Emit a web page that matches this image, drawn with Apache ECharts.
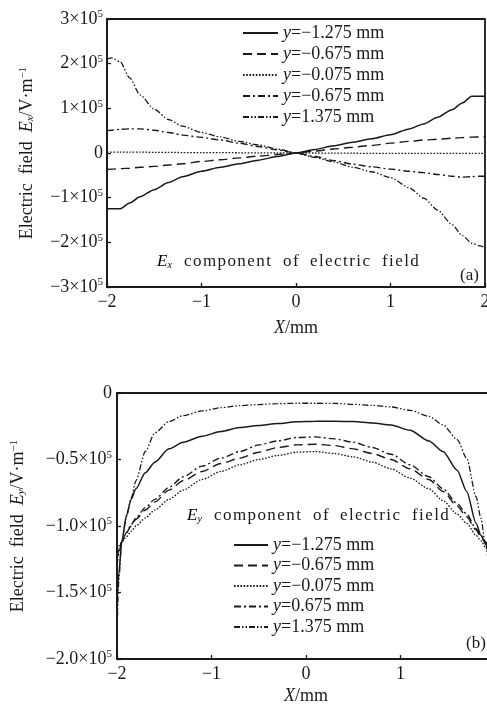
<!DOCTYPE html>
<html><head><meta charset="utf-8">
<script src="https://cdn.jsdelivr.net/npm/echarts@6/dist/echarts.min.js"></script>
<style>html,body{margin:0;padding:0;background:#fff}#c{width:487px;height:707px}</style>
</head><body><div id="c"></div>
<script>
// ---- Data (top: Ex, in units of 1e5 V/m) ----
const xTop = [-2, -1.95, -1.86, -1.76, -1.65, -1.5, -1.35, -1.2, -1.0, -0.8, -0.6, -0.4, -0.2, 0, 0.2, 0.4, 0.6, 0.8, 1.0, 1.2, 1.35, 1.5, 1.65, 1.76, 1.86, 1.95, 2];
const exA = [-1.25, -1.25, -1.25, -1.12, -0.98, -0.82, -0.66, -0.53, -0.41, -0.32, -0.24, -0.16, -0.08, 0, 0.08, 0.16, 0.24, 0.32, 0.41, 0.54, 0.65, 0.80, 0.97, 1.12, 1.27, 1.27, 1.27];
const exB = [-0.37, -0.36, -0.35, -0.34, -0.32, -0.30, -0.27, -0.24, -0.19, -0.15, -0.11, -0.07, -0.035, 0, 0.045, 0.09, 0.13, 0.17, 0.22, 0.26, 0.29, 0.31, 0.33, 0.345, 0.355, 0.36, 0.36];
const exC = [0.02, 0.02, 0.02, 0.02, 0.02, 0.015, 0.015, 0.01, 0.01, 0.01, 0.005, 0.005, 0, 0, 0, -0.005, -0.005, -0.01, -0.01, -0.01, -0.01, -0.01, -0.01, -0.01, -0.01, -0.01, -0.01];
const exD = [0.50, 0.51, 0.53, 0.54, 0.54, 0.51, 0.46, 0.40, 0.35, 0.29, 0.22, 0.145, 0.07, 0, -0.08, -0.17, -0.25, -0.31, -0.36, -0.41, -0.44, -0.48, -0.52, -0.54, -0.53, -0.52, -0.52];
const exE = [2.10, 2.13, 2.04, 1.68, 1.30, 0.98, 0.75, 0.60, 0.46, 0.36, 0.26, 0.18, 0.09, 0, -0.10, -0.20, -0.32, -0.42, -0.55, -0.78, -1.01, -1.28, -1.60, -1.85, -2.02, -2.08, -2.12];
const topLabels = ['y=−1.275 mm', 'y=−0.675 mm', 'y=−0.075 mm', 'y=−0.675 mm', 'y=1.375 mm'];
const topTicks = [-3, -2, -1, 0, 1, 2, 3];

// ---- Data (bottom: Ey, in units of 1e5 V/m) ----
const xBot = [-2, -1.98, -1.95, -1.9, -1.85, -1.8, -1.7, -1.6, -1.45, -1.3, -1.1, -0.9, -0.7, -0.5, -0.3, -0.1, 0.1, 0.3, 0.5, 0.7, 0.9, 1.1, 1.3, 1.45, 1.6, 1.7, 1.8, 1.85, 1.9, 1.95, 1.98, 2];
const eyA = [-1.55, -1.35, -1.12, -0.92, -0.80, -0.72, -0.60, -0.52, -0.42, -0.37, -0.325, -0.29, -0.26, -0.245, -0.23, -0.217, -0.213, -0.212, -0.215, -0.225, -0.24, -0.28, -0.36, -0.44, -0.58, -0.74, -0.98, -1.07, -1.13, -1.25, -1.4, -1.55];
const eyB = [-1.25, -1.18, -1.12, -1.05, -1.00, -0.95, -0.88, -0.82, -0.73, -0.66, -0.59, -0.53, -0.49, -0.445, -0.41, -0.39, -0.385, -0.395, -0.42, -0.455, -0.50, -0.57, -0.65, -0.74, -0.85, -0.93, -1.03, -1.08, -1.13, -1.19, -1.25, -1.35];
const eyC = [-1.20, -1.15, -1.12, -1.08, -1.04, -1.00, -0.94, -0.88, -0.80, -0.73, -0.65, -0.59, -0.54, -0.50, -0.47, -0.445, -0.44, -0.455, -0.48, -0.52, -0.57, -0.64, -0.72, -0.81, -0.91, -0.98, -1.07, -1.11, -1.16, -1.22, -1.28, -1.35];
const eyD = [-1.30, -1.20, -1.12, -1.05, -0.99, -0.94, -0.86, -0.80, -0.71, -0.63, -0.55, -0.49, -0.44, -0.39, -0.36, -0.335, -0.33, -0.345, -0.37, -0.41, -0.46, -0.54, -0.63, -0.72, -0.83, -0.91, -1.02, -1.07, -1.12, -1.18, -1.25, -1.35];
const eyE = [-1.80, -1.40, -1.12, -0.93, -0.79, -0.66, -0.44, -0.30, -0.215, -0.17, -0.135, -0.11, -0.095, -0.087, -0.080, -0.077, -0.077, -0.078, -0.085, -0.093, -0.105, -0.13, -0.175, -0.24, -0.35, -0.49, -0.78, -0.94, -1.14, -1.35, -1.55, -1.8];
const botLabels = ['y=−1.275 mm', 'y=−0.675 mm', 'y=−0.075 mm', 'y=0.675 mm', 'y=1.375 mm'];
const botTicks = [-2.0, -1.5, -1.0, -0.5, 0];
const xTicks = [-2, -1, 0, 1, 2];

// ---- Styling ----
const FF = 'Liberation Serif';
const INK = '#1a1a1a';
const dashes = ['solid', [9, 5], [1.6, 1.6], [7, 3, 2, 3], [6, 2, 1.5, 2, 1.5, 2]];
const widths = [1.5, 1.4, 1.3, 1.4, 1.3];
const topSeriesData = [exA, exB, exC, exD, exE];
const botSeriesData = [eyA, eyB, eyC, eyD, eyE];

const rich = {
  n: {fontFamily: FF, fontSize: 18, color: INK, lineHeight: 20},
  s: {fontFamily: FF, fontSize: 11, color: INK, verticalAlign: 'top', lineHeight: 11},
  i: {fontFamily: FF, fontSize: 18, color: INK, fontStyle: 'italic'},
  sub: {fontFamily: FF, fontSize: 11, color: INK, fontStyle: 'italic', verticalAlign: 'bottom', lineHeight: 11},
  t: {fontFamily: FF, fontSize: 18, color: INK}
};
const richAnn = {
  i: {fontFamily: FF, fontSize: 17, color: INK, fontStyle: 'italic'},
  sub: {fontFamily: FF, fontSize: 10, color: INK, fontStyle: 'italic', verticalAlign: 'bottom', lineHeight: 10}
};
const richLeg = {
  i: {fontFamily: FF, fontSize: 18, color: INK, fontStyle: 'italic'},
  t: {fontFamily: FF, fontSize: 18, color: INK}
};
const minus = s => String(s).replace('-', '−');
const legendFmt = s => '{i|y}{t|' + s.slice(1) + '}';
const spaced = w => w.split('').join('\u200A');

function xAxisCfg(gi, gap) {
  return {
    type: 'value', gridIndex: gi, min: -2, max: 2, interval: 1,
    axisLine: {show: true, onZero: false, lineStyle: {color: INK, width: 1.8}},
    axisTick: {show: true, inside: true, length: 4, lineStyle: {color: INK, width: 1.3}},
    splitLine: {show: false},
    axisLabel: {margin: 6, fontFamily: FF, fontSize: 18, color: INK, formatter: v => minus(v)},
    name: '{i|X}{t|/mm}', nameLocation: 'middle', nameGap: gap,
    nameTextStyle: {rich: rich}
  };
}

const series = [];
topSeriesData.forEach((d, k) => {
  series.push({
    name: 'a' + k, type: 'line', xAxisIndex: 0, yAxisIndex: 0,
    data: xTop.map((x, i) => [x, d[i]]), symbol: 'none', smooth: 0.25, smoothMonotone: 'x',
    lineStyle: {color: INK, width: widths[k], type: dashes[k]}, itemStyle: {color: INK}
  });
});
botSeriesData.forEach((d, k) => {
  series.push({
    name: 'b' + k, type: 'line', xAxisIndex: 1, yAxisIndex: 1,
    data: xBot.map((x, i) => [x, d[i]]), symbol: 'none', smooth: 0.25, smoothMonotone: 'x',
    lineStyle: {color: INK, width: widths[k], type: dashes[k]}, itemStyle: {color: INK}
  });
});

function legendCfg(left, top, gap, w, names, labels) {
  return {
    orient: 'vertical', left: left, top: top, itemWidth: w, itemHeight: 14, itemGap: gap, padding: 0,
    itemStyle: {opacity: 0},
    data: names,
    formatter: n => legendFmt(labels[+n.slice(1)]),
    textStyle: {fontFamily: FF, fontSize: 18, color: INK, rich: richLeg}
  };
}

const option = {
  animation: false,
  backgroundColor: '#fff',
  grid: [
    {left: 107, top: 19, width: 378, height: 268, show: true, borderColor: INK, borderWidth: 1.8, backgroundColor: 'transparent', outerBoundsMode: 'none', containLabel: false},
    {left: 117, top: 393, width: 378, height: 266, show: true, borderColor: INK, borderWidth: 1.8, backgroundColor: 'transparent', outerBoundsMode: 'none', containLabel: false}
  ],
  xAxis: [xAxisCfg(0, 32), xAxisCfg(1, 28)],
  yAxis: [
    {
      type: 'value', gridIndex: 0, min: -3, max: 3, interval: 1,
      axisLine: {show: true, onZero: false, lineStyle: {color: INK, width: 1.8}},
      axisTick: {show: true, inside: true, length: 4, lineStyle: {color: INK, width: 1.3}},
      splitLine: {show: false},
      axisLabel: {margin: 4, rich: rich, formatter: v => v === 0 ? '{n|0}' : '{n|' + (v < 0 ? '−' : '') + Math.abs(v) + '×10}{s|5}'},
      name: '{t|Electric  field  }{i|E}{sub|x}{t|/V·m}{s|−1}', nameLocation: 'middle', nameRotate: 90, nameGap: 71,
      nameTextStyle: {rich: rich}
    },
    {
      type: 'value', gridIndex: 1, min: -2, max: 0, interval: 0.5,
      axisLine: {show: true, onZero: false, lineStyle: {color: INK, width: 1.8}},
      axisTick: {show: true, inside: true, length: 4, lineStyle: {color: INK, width: 1.3}},
      splitLine: {show: false},
      axisLabel: {margin: 5, rich: rich, formatter: v => v === 0 ? '{n|0}' : '{n|−' + Math.abs(v).toFixed(1) + '×10}{s|5}'},
      name: '{t|Electric  field  }{i|E}{sub|y}{t|/V·m}{s|−1}', nameLocation: 'middle', nameRotate: 90, nameGap: 90,
      nameTextStyle: {rich: rich}
    }
  ],
  legend: [
    legendCfg(242, 24, 3, 35, ['a0', 'a1', 'a2', 'a3', 'a4'], topLabels),
    legendCfg(233, 536, 2.5, 34, ['b0', 'b1', 'b2', 'b3', 'b4'], botLabels)
  ],
  graphic: [
    {type: 'text', left: 157, top: 253, style: {text: '{i|E}{sub|x}', rich: richAnn}},
    {type: 'text', left: 184, top: 253, style: {text: spaced('component'), font: '17px "Liberation Serif"', fill: INK}},
    {type: 'text', left: 283, top: 253, style: {text: spaced('of'), font: '17px "Liberation Serif"', fill: INK}},
    {type: 'text', left: 310, top: 253, style: {text: spaced('electric'), font: '17px "Liberation Serif"', fill: INK}},
    {type: 'text', left: 382, top: 253, style: {text: spaced('field'), font: '17px "Liberation Serif"', fill: INK}},
    {type: 'text', left: 187, top: 507, style: {text: '{i|E}{sub|y}', rich: richAnn}},
    {type: 'text', left: 214, top: 507, style: {text: spaced('component'), font: '17px "Liberation Serif"', fill: INK}},
    {type: 'text', left: 313, top: 507, style: {text: spaced('of'), font: '17px "Liberation Serif"', fill: INK}},
    {type: 'text', left: 340, top: 507, style: {text: spaced('electric'), font: '17px "Liberation Serif"', fill: INK}},
    {type: 'text', left: 412, top: 507, style: {text: spaced('field'), font: '17px "Liberation Serif"', fill: INK}},
    {type: 'text', left: 460, top: 267, style: {text: '(a)', font: '17px "Liberation Serif"', fill: INK}},
    {type: 'text', left: 466, top: 635, style: {text: '(b)', font: '17px "Liberation Serif"', fill: INK}}
  ],
  series: series
};

const chart = echarts.init(document.getElementById('c'), null, {renderer: 'canvas'});
chart.setOption(option);
</script>
</body></html>
